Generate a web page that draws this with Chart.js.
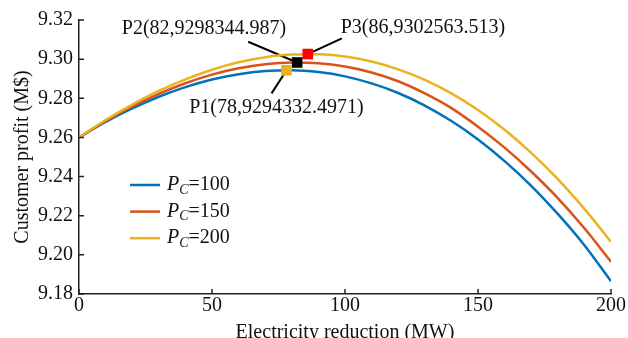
<!DOCTYPE html>
<html>
<head>
<meta charset="utf-8">
<script src="https://cdn.jsdelivr.net/npm/chart.js@4.4.1/dist/chart.umd.min.js"></script>
<style>
  html, body { margin: 0; padding: 0; background: #fff; }
  #wrap { width: 628px; height: 338px; }
</style>
</head>
<body>
<div id="wrap"><canvas id="profitChart" width="628" height="338"></canvas></div>
<script>
// electricity reduction (MW)
const reduction = [0, 10, 20, 30, 40, 50, 60, 70, 80, 90, 100, 110, 120, 130, 140, 150, 160, 170, 180, 190, 200];
// customer profit (M$)
const profitPc100 = [9.2600, 9.2679, 9.2748, 9.2808, 9.2857, 9.2896, 9.2923, 9.2939, 9.2943, 9.2934, 9.2912, 9.2876, 9.2827, 9.2763, 9.2684, 9.2590, 9.2479, 9.2353, 9.2209, 9.2049, 9.1865];
const profitPc150 = [9.2600, 9.2684, 9.2758, 9.2823, 9.2877, 9.2921, 9.2953, 9.2974, 9.2983, 9.2979, 9.2962, 9.2932, 9.2887, 9.2825, 9.2750, 9.2655, 9.2548, 9.2426, 9.2290, 9.2136, 9.1965];
const profitPc200 = [9.2600, 9.2689, 9.2768, 9.2838, 9.2897, 9.2946, 9.2984, 9.3010, 9.3024, 9.3025, 9.3013, 9.2988, 9.2948, 9.2894, 9.2825, 9.2740, 9.2639, 9.2521, 9.2387, 9.2235, 9.2067];
const seriesLabels = ["100", "150", "200"];
const seriesColors = ["#0072BD", "#D95319", "#EDB120"];

// marked optimum points
const peakNames = ["P1", "P2", "P3"];
const peakX = [78, 82, 86];
const peakY = [9.2943, 9.2983, 9.3026];
const peakText = ["P1(78,9294332.4971)", "P2(82,9298344.987)", "P3(86,9302563.513)"];
const peakColors = ["#EDB120", "#000000", "#FF0000"];
// label centre and leader start, in data units
const labelX = [74.2, 47, 129.3];
const labelY = [9.2750, 9.3154, 9.3159];
const leaderX = [72.4, 63.6, 98.8];
const leaderY = [9.2825, 9.3089, 9.3106];

const xTicks = [0, 50, 100, 150, 200];
const yTicks = [9.18, 9.20, 9.22, 9.24, 9.26, 9.28, 9.30, 9.32];

const FONT = "'Liberation Serif', 'Times New Roman', serif";

function toPoints(ys) {
  return reduction.map((x, i) => ({ x: x, y: ys[i] }));
}

// ticks pointing inwards, MATLAB style
const inwardTicks = {
  id: "inwardTicks",
  afterDraw(chart) {
    const { ctx, chartArea, scales } = chart;
    ctx.save();
    ctx.strokeStyle = "#222";
    ctx.lineWidth = 1.5;
    ctx.beginPath();
    xTicks.forEach(v => {
      const px = scales.x.getPixelForValue(v);
      ctx.moveTo(px, chartArea.bottom);
      ctx.lineTo(px, chartArea.bottom - 5);
    });
    yTicks.forEach(v => {
      const py = scales.y.getPixelForValue(v);
      ctx.moveTo(chartArea.left, py);
      ctx.lineTo(chartArea.left + 5, py);
    });
    ctx.stroke();
    ctx.restore();
  }
};

// leader lines under the markers, labels on top
const leaders = {
  id: "leaders",
  beforeDatasetsDraw(chart) {
    const { ctx, scales } = chart;
    ctx.save();
    ctx.strokeStyle = "#000";
    ctx.lineWidth = 2;
    peakX.forEach((x, i) => {
      ctx.beginPath();
      ctx.moveTo(scales.x.getPixelForValue(leaderX[i]), scales.y.getPixelForValue(leaderY[i]));
      ctx.lineTo(scales.x.getPixelForValue(x), scales.y.getPixelForValue(peakY[i]));
      ctx.stroke();
    });
    ctx.restore();
  },
  afterDatasetsDraw(chart) {
    const { ctx, scales } = chart;
    ctx.save();
    ctx.fillStyle = "#111";
    ctx.font = "20px " + FONT;
    ctx.textAlign = "center";
    ctx.textBaseline = "middle";
    peakText.forEach((t, i) => {
      ctx.fillText(t, scales.x.getPixelForValue(labelX[i]), scales.y.getPixelForValue(labelY[i]));
    });
    ctx.restore();
  }
};

// legend with italic P and subscript C
const subLegend = {
  id: "subLegend",
  afterDatasetsDraw(chart) {
    const { ctx, chartArea } = chart;
    const x0 = chartArea.left + 51;
    const y0 = chartArea.top + 165;
    ctx.save();
    seriesLabels.forEach((lab, i) => {
      const y = y0 + i * 26.6;
      ctx.strokeStyle = seriesColors[i];
      ctx.lineWidth = 2.5;
      ctx.beginPath();
      ctx.moveTo(x0, y);
      ctx.lineTo(x0 + 30, y);
      ctx.stroke();
      ctx.fillStyle = "#111";
      ctx.textBaseline = "middle";
      ctx.textAlign = "left";
      let tx = x0 + 37;
      ctx.font = "italic 20px " + FONT;
      ctx.fillText("P", tx, y);
      tx += ctx.measureText("P").width;
      ctx.font = "italic 14px " + FONT;
      ctx.fillText("C", tx, y + 5);
      tx += ctx.measureText("C").width;
      ctx.font = "20px " + FONT;
      ctx.fillText("=" + lab, tx, y);
    });
    ctx.restore();
  }
};

const lineSets = [profitPc100, profitPc150, profitPc200].map((ys, i) => ({
  label: "PC=" + seriesLabels[i],
  data: toPoints(ys),
  borderColor: seriesColors[i],
  borderWidth: 2.5,
  pointRadius: 0,
  fill: false,
  cubicInterpolationMode: "monotone",
  order: 1 + (2 - i)
}));

const markerSets = peakNames.map((n, i) => ({
  label: n,
  type: "scatter",
  data: [{ x: peakX[i], y: peakY[i] }],
  pointStyle: "rect",
  pointRadius: 7.5,
  backgroundColor: peakColors[i],
  borderColor: peakColors[i],
  borderWidth: 0,
  order: 0
}));

new Chart(document.getElementById("profitChart"), {
  type: "line",
  data: { datasets: [...lineSets, ...markerSets] },
  options: {
    responsive: false,
    animation: false,
    layout: { padding: { left: 0, top: 20, right: 17, bottom: 0 } },
    plugins: { legend: { display: false }, tooltip: { enabled: false } },
    scales: {
      x: {
        type: "linear",
        min: 0,
        max: 200,
        afterBuildTicks: s => { s.ticks = xTicks.map(v => ({ value: v })); },
        afterFit: s => { s.height = 44; },
        ticks: { color: "#111", font: { family: FONT, size: 20 }, padding: 0, maxRotation: 0 },
        grid: { display: true, drawOnChartArea: false, drawTicks: false },
        border: { display: true, color: "#222", width: 1.5 },
        title: { display: true, text: "Electricity reduction (MW)", color: "#111", font: { family: FONT, size: 20 }, padding: { top: 0, bottom: -7 } }
      },
      y: {
        min: 9.18,
        max: 9.32,
        afterBuildTicks: s => { s.ticks = yTicks.map(v => ({ value: v })); },
        afterFit: s => { s.width = 79; },
        ticks: { color: "#111", font: { family: FONT, size: 20 }, padding: 6, callback: v => v.toFixed(2) },
        grid: { display: true, drawOnChartArea: false, drawTicks: false },
        border: { display: true, color: "#222", width: 1.5 },
        title: { display: true, text: "Customer profit (M$)", color: "#111", font: { family: FONT, size: 20 }, padding: { top: 11, bottom: 0 } }
      }
    }
  },
  plugins: [inwardTicks, leaders, subLegend]
});
</script>
</body>
</html>
